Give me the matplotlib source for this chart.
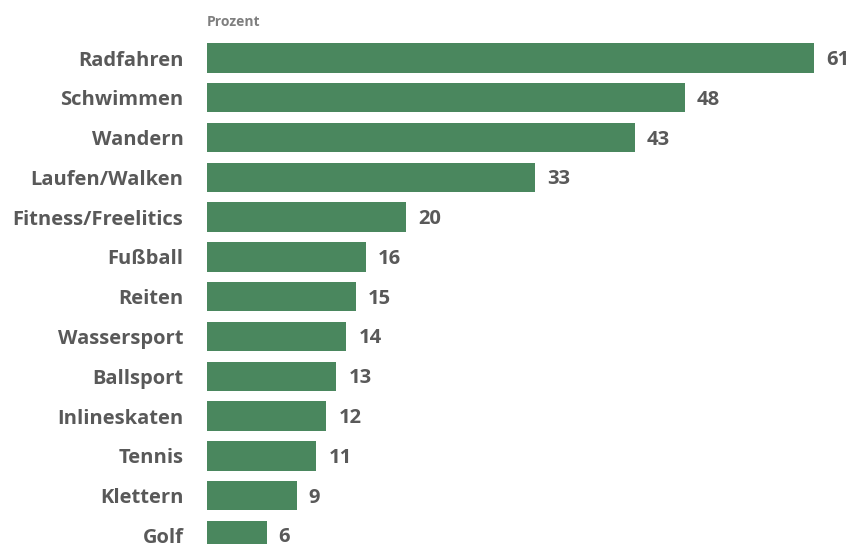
import numpy as np
import matplotlib.pyplot as plt

categories = ["Radfahren", "Schwimmen", "Wandern", "Laufen/Walken", "Fitness/Freelitics",
              "Fußball", "Reiten", "Wassersport", "Ballsport", "Inlineskaten",
              "Tennis", "Klettern", "Golf"]
values = [61, 48, 43, 33, 20, 16, 15, 14, 13, 12, 11, 9, 6]

bar_color = "#4a875e"
text_color = "#595959"
plt.rcParams['font.family'] = ['Open Sans', 'DejaVu Sans']

W, H = 851, 544
fig = plt.figure(figsize=(W / 100, H / 100), dpi=100, facecolor='white')

# axes placed in pixel terms: bars start at x=207, 61 ends at x=814
step = 39.78
first_center = 58
ax = fig.add_axes([207 / W, 0, (814 - 207) / W, 1])
ax.set_xlim(0, 61)
ax.set_ylim((H - first_center) / step, -first_center / step)

y = np.arange(len(categories))
ax.barh(y, values, height=0.74, color=bar_color)

for yi, v in zip(y, values):
    ax.text(v + 1.2, yi + 0.05, str(v), va='center', ha='left', fontsize=14.5,
            fontweight='bold', color=text_color, clip_on=False)

ax.set_yticks(y)
ax.set_yticklabels(categories, fontsize=14.5, fontweight='bold', color=text_color)
ax.tick_params(axis='y', length=0, pad=17)
ax.set_xticks([])
for s in ax.spines.values():
    s.set_visible(False)

fig.text(207 / W, 1 - 22 / H, "Prozent", fontsize=10, fontweight='bold',
         color="#7f7f7f", va='center', ha='left')

fig.savefig("out.png", dpi=100)
